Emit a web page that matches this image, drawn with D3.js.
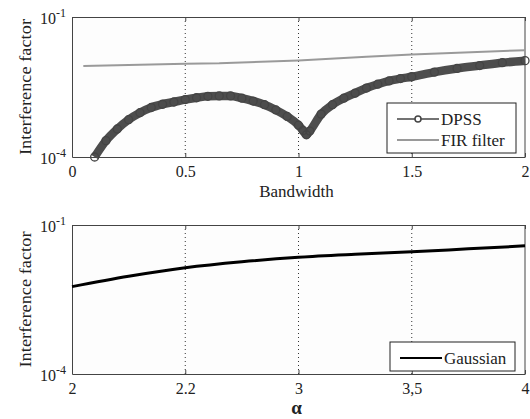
<!DOCTYPE html>
<html>
<head>
<meta charset="utf-8">
<script src="https://cdn.jsdelivr.net/npm/d3@7/dist/d3.min.js"></script>
<style>
  body { margin: 0; background: #fff; }
  svg text { fill: #222; }
  .axis path, .axis line { stroke: #444; }
  .grid line { stroke: #333; stroke-dasharray: 1,3; }
</style>
</head>
<body>
<div class="chart"></div>
<script>
"use strict";
// top panel: interference factor vs bandwidth
var bandwidth = [0.10, 0.15, 0.20, 0.25, 0.30, 0.35, 0.40, 0.45, 0.50, 0.55, 0.60, 0.65, 0.70,
                 0.75, 0.80, 0.85, 0.90, 0.95, 1.00, 1.02, 1.035, 1.05, 1.10, 1.15, 1.20, 1.25, 1.30,
                 1.35, 1.40, 1.45, 1.50, 1.60, 1.70, 1.80, 1.90, 2.00];
var dpss = [1.0e-4, 2.24e-4, 3.98e-4, 6.31e-4, 8.9e-4, 1.15e-3, 1.35e-3, 1.51e-3, 1.70e-3, 1.86e-3,
            2.0e-3, 2.04e-3, 2.04e-3, 1.82e-3, 1.58e-3, 1.32e-3, 1.02e-3, 7.4e-4, 4.8e-4, 3.7e-4, 3.0e-4,
            3.6e-4, 8.3e-4, 1.32e-3, 1.82e-3, 2.34e-3, 3.0e-3, 3.63e-3, 4.27e-3, 4.79e-3, 5.25e-3,
            6.6e-3, 7.9e-3, 9.1e-3, 1.05e-2, 1.16e-2];
var firBandwidth = [0.05, 0.5, 0.65, 1.0, 1.3, 1.5, 2.0];
var firFilter = [8.9e-3, 1.0e-2, 1.02e-2, 1.17e-2, 1.41e-2, 1.58e-2, 1.95e-2];
var bwTicks = [0, 0.5, 1, 1.5, 2];
var bwTickLabels = ["0", "0.5", "1", "1.5", "2"];

// bottom panel: interference factor vs alpha
var alpha = [2.0, 2.25, 2.5, 2.75, 3.0, 3.25, 3.5, 3.75, 4.0];
var gaussian = [5.75e-3, 9.3e-3, 1.38e-2, 1.82e-2, 2.24e-2, 2.57e-2, 2.88e-2, 3.31e-2, 3.8e-2];
var alphaTicks = [2, 2.5, 3, 3.5, 4];
var alphaTickLabels = ["2", "2.2", "3", "3,5", "4"];

var yTicks = [1e-4, 1e-1];
var yTickExp = ["-4", "-1"];

var width = 530, height = 419;
var left = 72, right = 525;
var serif = "'Liberation Serif', 'DejaVu Serif', serif";

var svg = d3.select(".chart").append("svg")
    .attr("width", width)
    .attr("height", height)
    .attr("font-family", serif);

function drawPanel(top, bottom, xDomain, ticks, tickLabels, xTitle, boldTitle) {
  var x = d3.scaleLinear().domain(xDomain).range([left, right]);
  var y = d3.scaleLog().domain([1e-4, 1e-1]).range([bottom, top]);

  //plot background
  svg.append("rect")
    .attr("x", left).attr("y", top)
    .attr("width", right - left).attr("height", bottom - top)
    .style("fill", "#fdfdfd");

  //dotted vertical grid
  svg.append("g").attr("class", "grid")
    .selectAll("line")
    .data(ticks.slice(1, -1))
    .enter().append("line")
    .attr("x1", function(d){ return x(d); })
    .attr("x2", function(d){ return x(d); })
    .attr("y1", top).attr("y2", bottom);

  //x axis
  var xAxis = d3.axisBottom(x)
    .tickValues(ticks)
    .tickSizeInner(-4)
    .tickSizeOuter(0)
    .tickPadding(9)
    .tickFormat(function(d, i){ return tickLabels[i]; });
  svg.append("g")
    .attr("class", "x axis")
    .attr("transform", "translate(0," + bottom + ")")
    .call(xAxis)
    .attr("font-family", serif)
    .selectAll("text")
    .style("font-size", "16px");

  //top ticks
  svg.append("g")
    .attr("class", "x axis")
    .attr("transform", "translate(0," + top + ")")
    .call(d3.axisTop(x).tickValues(ticks).tickSizeInner(-4).tickSizeOuter(0).tickFormat(""));

  //y axis
  var yAxis = d3.axisLeft(y)
    .tickValues(yTicks)
    .tickSizeInner(0)
    .tickSizeOuter(0)
    .tickPadding(6)
    .tickFormat("");
  var yg = svg.append("g")
    .attr("class", "y axis")
    .attr("transform", "translate(" + left + ",0)")
    .call(yAxis)
    .attr("font-family", serif);
  yg.selectAll(".tick text").each(function(d, i){
    var t = d3.select(this).attr("dy", "0.4em").style("font-size", "16px");
    t.append("tspan").text("10");
    t.append("tspan").attr("dy", "-0.6em").style("font-size", "12px").text(yTickExp[i]);
  });

  //right border
  svg.append("line")
    .attr("x1", right).attr("x2", right)
    .attr("y1", top).attr("y2", bottom)
    .style("stroke", "#444");

  //x title
  svg.append("text")
    .attr("x", (left + right) / 2 - 2)
    .attr("y", bottom + 40)
    .attr("text-anchor", "middle")
    .style("font-size", boldTitle ? "19px" : "17px")
    .style("font-weight", boldTitle ? "bold" : "normal")
    .text(xTitle);

  //y title
  svg.append("text")
    .attr("transform", "translate(31," + (top + bottom) / 2 + ") rotate(-90)")
    .attr("text-anchor", "middle")
    .attr("textLength", 136)
    .attr("lengthAdjust", "spacingAndGlyphs")
    .style("font-size", "17px")
    .text("Interference factor");

  return {x: x, y: y};
}

var p1 = drawPanel(17, 157, [0, 2], bwTicks, bwTickLabels, "Bandwidth", false);
var p2 = drawPanel(225, 374, [2, 4], alphaTicks, alphaTickLabels, "\u03b1", true);

//FIR filter
var firLine = d3.line()
  .x(function(d){ return p1.x(d[0]); })
  .y(function(d){ return p1.y(d[1]); });
svg.append("path")
  .datum(d3.zip(firBandwidth, firFilter))
  .attr("d", firLine)
  .style("fill", "none")
  .style("stroke", "#9a9a9a")
  .style("stroke-width", 2);

//DPSS (dense markers -> thick band)
var dpssData = d3.zip(bandwidth, dpss);
var dpssLine = d3.line()
  .curve(d3.curveMonotoneX)
  .x(function(d){ return p1.x(d[0]); })
  .y(function(d){ return p1.y(d[1]); });
svg.append("path")
  .datum(dpssData)
  .attr("d", dpssLine)
  .style("fill", "none")
  .style("stroke", "#4d4d4d")
  .style("stroke-width", 8.5)
  .style("stroke-linejoin", "round");
svg.append("g").selectAll("circle")
  .data(dpssData)
  .enter().append("circle")
  .attr("cx", function(d){ return p1.x(d[0]); })
  .attr("cy", function(d){ return p1.y(d[1]); })
  .attr("r", 4)
  .style("fill", "none")
  .style("stroke", "#444")
  .style("stroke-width", 1.3);

//Gaussian
var gLine = d3.line()
  .curve(d3.curveMonotoneX)
  .x(function(d){ return p2.x(d[0]); })
  .y(function(d){ return p2.y(d[1]); });
svg.append("path")
  .datum(d3.zip(alpha, gaussian))
  .attr("d", gLine)
  .style("fill", "none")
  .style("stroke", "#000")
  .style("stroke-width", 3);

//legends
function legend(x0, y0, w, items) {
  var g = svg.append("g").attr("transform", "translate(" + x0 + "," + y0 + ")");
  g.append("rect")
    .attr("width", w)
    .attr("height", items.length * 21 + 8)
    .style("fill", "#fff")
    .style("stroke", "#222");
  items.forEach(function(it, i){
    var cy = 16 + i * 21;
    g.append("line")
      .attr("x1", 10).attr("x2", 52)
      .attr("y1", cy).attr("y2", cy)
      .style("stroke", it.color)
      .style("stroke-width", it.width);
    if (it.marker) {
      g.append("circle")
        .attr("cx", 31).attr("cy", cy).attr("r", 3)
        .style("fill", "#fff")
        .style("stroke", it.color)
        .style("stroke-width", 1.5);
    }
    g.append("text")
      .attr("x", 54).attr("y", cy + 6)
      .style("font-size", "17px")
      .text(it.name);
  });
}
legend(387, 103, 129, [
  {name: "DPSS", color: "#444", width: 1.5, marker: true},
  {name: "FIR filter", color: "#9a9a9a", width: 2, marker: false}
]);
legend(390, 342, 125, [
  {name: "Gaussian", color: "#000", width: 2, marker: false}
]);
</script>
</body>
</html>
